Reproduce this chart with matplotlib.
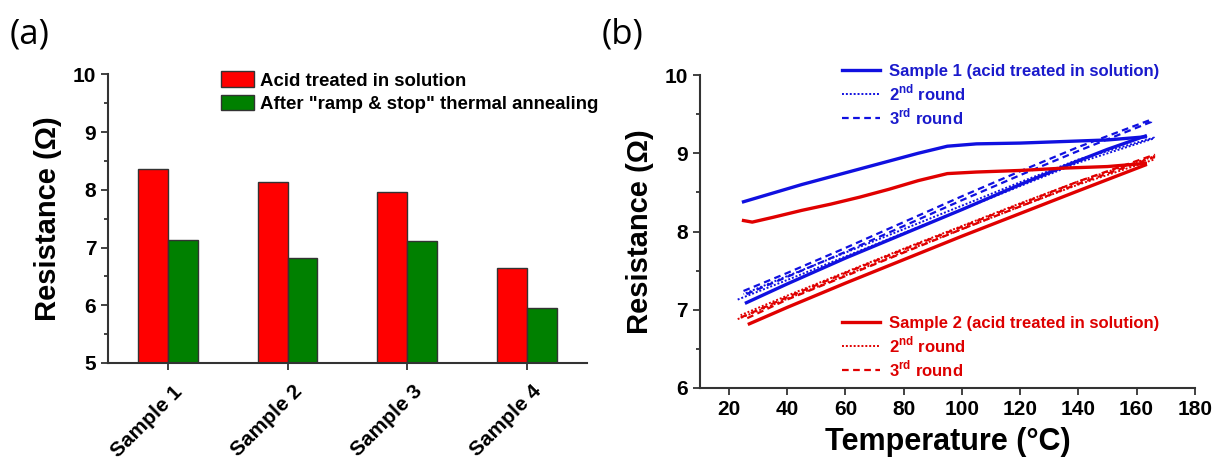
import numpy as np
import matplotlib
matplotlib.use("Agg")
import matplotlib.pyplot as plt
from matplotlib.transforms import ScaledTranslation

plt.rcParams['font.family'] = ['Liberation Sans', 'DejaVu Sans']
plt.rcParams['font.weight'] = 'bold'
plt.rcParams['mathtext.fontset'] = 'custom'
plt.rcParams['mathtext.rm'] = 'Liberation Sans:bold'
plt.rcParams['mathtext.bf'] = 'Liberation Sans:bold'

# ---- panel (a) data
samples = ['Sample 1', 'Sample 2', 'Sample 3', 'Sample 4']
acid = [8.36, 8.13, 7.96, 6.64]
annealed = [7.13, 6.82, 7.12, 5.96]

# ---- panel (b) data (temperature C, resistance ohm)
s1_heat_T = [25, 35, 45, 55, 65, 75, 85, 95, 105, 120, 135, 150, 163]
s1_heat_R = [8.38, 8.49, 8.60, 8.70, 8.80, 8.90, 9.00, 9.09, 9.12, 9.13, 9.15, 9.17, 9.21]
s1_cool_T = [163, 150, 137, 120, 100, 80, 60, 40, 26]
s1_cool_R = [9.22, 9.05, 8.86, 8.60, 8.28, 7.97, 7.66, 7.33, 7.09]
s1_r2_T = [23, 40, 60, 80, 100, 120, 140, 166, 166, 140, 120, 100, 80, 60, 40, 25]
s1_r2_R = [7.13, 7.38, 7.68, 7.98, 8.28, 8.58, 8.88, 9.19, 9.20, 8.92, 8.63, 8.33, 8.03, 7.73, 7.43, 7.20]
s1_r3_T = [25, 40, 60, 80, 100, 120, 140, 165, 165, 140, 120, 100, 80, 60, 40, 26]
s1_r3_R = [7.24, 7.47, 7.79, 8.12, 8.45, 8.77, 9.08, 9.43, 9.40, 9.03, 8.72, 8.40, 8.07, 7.74, 7.42, 7.20]

s2_heat_T = [25, 28, 35, 45, 55, 65, 75, 85, 95, 105, 120, 135, 150, 163]
s2_heat_R = [8.14, 8.12, 8.18, 8.27, 8.35, 8.44, 8.54, 8.65, 8.74, 8.76, 8.78, 8.81, 8.83, 8.87]
s2_cool_T = [163, 140, 120, 100, 80, 60, 40, 27]
s2_cool_R = [8.85, 8.52, 8.23, 7.94, 7.64, 7.34, 7.03, 6.82]
s2_r2_T = [23, 40, 60, 80, 100, 120, 140, 166, 166, 140, 120, 100, 80, 60, 40, 24]
s2_r2_R = [6.88, 7.14, 7.44, 7.74, 8.03, 8.32, 8.60, 8.92, 8.96, 8.64, 8.36, 8.07, 7.78, 7.48, 7.18, 6.93]
s2_r3_T = [24, 40, 60, 80, 100, 120, 140, 166, 166, 140, 120, 100, 80, 60, 40, 25]
s2_r3_R = [6.90, 7.16, 7.47, 7.77, 8.06, 8.35, 8.64, 8.98, 8.95, 8.61, 8.32, 8.03, 7.73, 7.43, 7.13, 6.87]

blue = '#1010e0'
red = '#e00000'

fig = plt.figure(figsize=(12.15, 4.63), dpi=100)

# ---------------- (a)
ax1 = fig.add_axes([0.0889, 0.216, 0.394, 0.6235])
x = np.arange(len(samples))
w = 0.25
ax1.bar(x - w/2, acid, w, color='#ff0000', edgecolor='#333333', lw=1, label='Acid treated in solution')
ax1.bar(x + w/2, annealed, w, color='#008000', edgecolor='#333333', lw=1,
        label='After "ramp & stop" thermal annealing')
ax1.set_xlim(-0.5, 3.5)
ax1.set_ylim(5, 10)
ax1.set_xticks(x)
ax1.set_yticks([5, 6, 7, 8, 9, 10])
ax1.set_yticks(np.arange(5.5, 10, 1), minor=True)
ax1.set_ylabel('Resistance (Ω)', fontsize=21, fontweight='bold', labelpad=8)
ax1.legend(loc='upper left', bbox_to_anchor=(0.236, 1.01), frameon=False, fontsize=13.4,
           handlelength=1.78, handleheight=0.9, handletextpad=0.3, labelspacing=0.27,
           borderpad=0, borderaxespad=0)

# ---------------- (b)
ax2 = fig.add_axes([0.576, 0.162, 0.4074, 0.676])
ax2.plot(s1_heat_T, s1_heat_R, color=blue, lw=2.4, label='Sample 1 (acid treated in solution)')
ax2.plot(s1_cool_T, s1_cool_R, color=blue, lw=2.4)
ax2.plot(s1_r2_T, s1_r2_R, color=blue, lw=1.4, ls=(0, (1, 1)), label='2$^{\\mathbf{nd}}$ round')
ax2.plot(s1_r3_T, s1_r3_R, color=blue, lw=1.6, ls=(0, (3, 2)), label='3$^{\\mathbf{rd}}$ round')
l2a, = ax2.plot(s2_heat_T, s2_heat_R, color=red, lw=2.4, label='Sample 2 (acid treated in solution)')
ax2.plot(s2_cool_T, s2_cool_R, color=red, lw=2.4)
l2b, = ax2.plot(s2_r2_T, s2_r2_R, color=red, lw=1.4, ls=(0, (1, 1)), label='2$^{\\mathbf{nd}}$ round')
l2c, = ax2.plot(s2_r3_T, s2_r3_R, color=red, lw=1.6, ls=(0, (3, 2)), label='3$^{\\mathbf{rd}}$ round')

ax2.set_xlim(10, 180)
ax2.set_ylim(6, 10)
ax2.set_xticks(np.arange(20, 181, 20))
ax2.set_yticks([6, 7, 8, 9, 10])
ax2.set_yticks(np.arange(6.5, 10, 1), minor=True)
ax2.set_xlabel('Temperature (°C)', fontsize=22, fontweight='bold', labelpad=6)
ax2.set_ylabel('Resistance (Ω)', fontsize=21, fontweight='bold', labelpad=8)

h, lab = ax2.get_legend_handles_labels()
leg1 = ax2.legend(h[:3], lab[:3], loc='upper left', bbox_to_anchor=(0.287, 1.035), frameon=False,
                  fontsize=12, labelcolor='#1a1acc', handlelength=2.3, handletextpad=0.55,
                  labelspacing=0.2, borderpad=0, borderaxespad=0)
ax2.add_artist(leg1)
ax2.legend([l2a, l2b, l2c], [lab[3], lab[4], lab[5]], loc='upper left', bbox_to_anchor=(0.287, 0.229),
           frameon=False, fontsize=12, labelcolor='#dd0000', handlelength=2.3, handletextpad=0.55,
           labelspacing=0.2, borderpad=0, borderaxespad=0)

for ax in (ax1, ax2):
    for s in ('top', 'right'):
        ax.spines[s].set_visible(False)
    for s in ('left', 'bottom'):
        ax.spines[s].set_linewidth(1.5)
        ax.spines[s].set_color('#333333')
    ax.tick_params(which='major', direction='out', length=5, width=1.3, color='#333333', labelsize=15)
    ax.tick_params(which='minor', direction='out', length=3, width=1.3, color='#333333')
    for t in ax.get_xticklabels() + ax.get_yticklabels():
        t.set_fontweight('bold')

# rotated sample labels, shifted like the original (after tick_params, which resets transforms)
ax1.set_xticklabels(samples, rotation=45, ha='right', va='center', rotation_mode='anchor',
                    fontsize=15, fontweight='bold')
shift = ScaledTranslation(8.5/72, -10/72, fig.dpi_scale_trans)
for t in ax1.get_xticklabels():
    t.set_transform(t.get_transform() + shift)

fig.text(0.008, 0.925, '(a)', fontsize=25, fontweight='normal', family='Open Sans', va='center')
fig.text(0.495, 0.925, '(b)', fontsize=25, fontweight='normal', family='Open Sans', va='center')

fig.savefig('out.png', dpi=100)
